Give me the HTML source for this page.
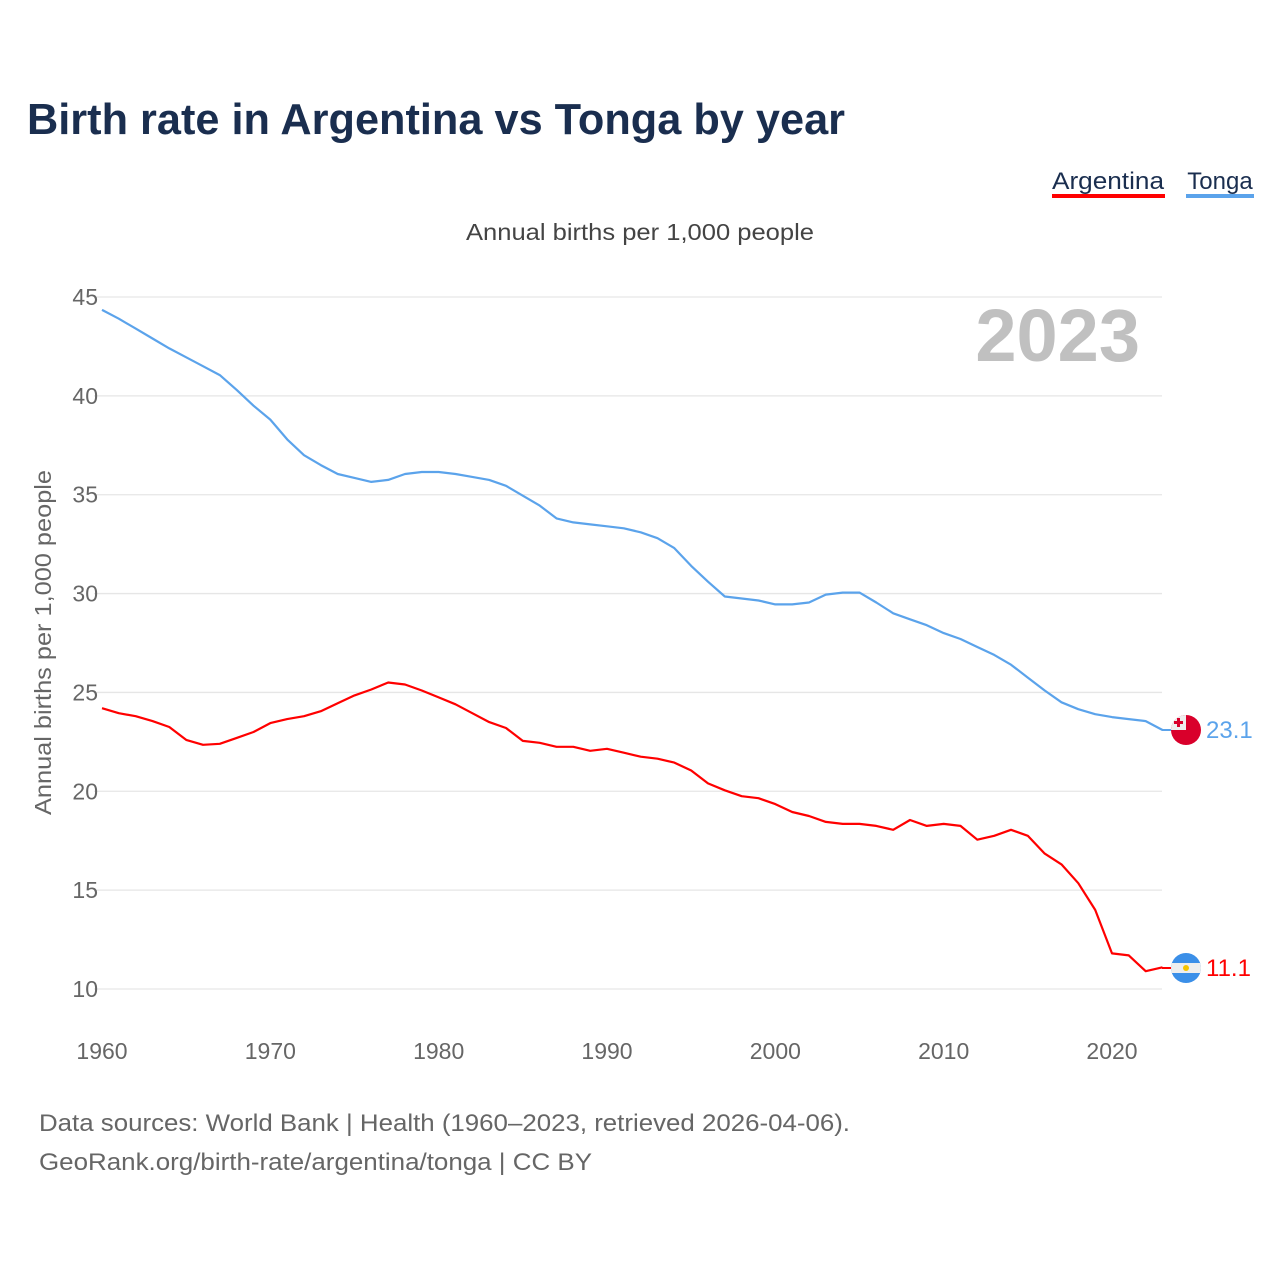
<!DOCTYPE html>
<html><head><meta charset="utf-8"><style>
body{margin:0;background:#fff;font-family:"Liberation Sans",sans-serif;}
svg{display:block}
</style></head><body>
<svg width="1280" height="1280" viewBox="0 0 1280 1280" xmlns="http://www.w3.org/2000/svg">
<defs>
<clipPath id="fc1"><circle cx="1186" cy="730" r="15"/></clipPath>
<clipPath id="fc2"><circle cx="1186" cy="968" r="15"/></clipPath>
</defs>
<text x="27" y="134" font-size="44" font-weight="bold" fill="#1a2e4f" textLength="818" lengthAdjust="spacingAndGlyphs">Birth rate in Argentina vs Tonga by year</text>
<g>
<text x="1108" y="189" font-size="24" fill="#1a2e4f" text-anchor="middle" textLength="112" lengthAdjust="spacingAndGlyphs">Argentina</text>
<rect x="1052" y="194" width="113" height="4" fill="#ff0000"/>
</g>
<g>
<text x="1220" y="189" font-size="24" fill="#1a2e4f" text-anchor="middle">Tonga</text>
<rect x="1186" y="194" width="68" height="4" fill="#5ba3eb"/>
</g>
<text x="466" y="240" font-size="23" fill="#444" textLength="348" lengthAdjust="spacingAndGlyphs">Annual births per 1,000 people</text>
<text x="1140" y="361" font-size="74" font-weight="bold" fill="#c0c0c0" text-anchor="end">2023</text>
<text transform="translate(51,815) rotate(-90)" font-size="23" fill="#666" textLength="345" lengthAdjust="spacingAndGlyphs">Annual births per 1,000 people</text>
<g id="grid"></g><g id="yt"></g><g id="xt"></g><g id="lines"></g>
<line x1="1162" y1="730" x2="1172" y2="730" stroke="#5ba3eb" stroke-width="2"/>
<line x1="1162" y1="968" x2="1172" y2="968" stroke="#ff0000" stroke-width="2"/>
<g clip-path="url(#fc1)">
<rect x="1170" y="714" width="32" height="32" fill="#d9002b"/>
<rect x="1170" y="714" width="16" height="16" fill="#eee"/>
<rect x="1177" y="718" width="3" height="9" fill="#d9002b"/><rect x="1174" y="721" width="9" height="3" fill="#d9002b"/>
</g>
<g clip-path="url(#fc2)">
<rect x="1170" y="952" width="32" height="32" fill="#3b8fe8"/>
<rect x="1170" y="963" width="32" height="10" fill="#eee"/>
<circle cx="1186" cy="968" r="3" fill="#f5c400"/>
</g>
<text x="1206" y="738" font-size="24" fill="#5ba3eb">23.1</text>
<text x="1206" y="976" font-size="24" fill="#ff0000">11.1</text>
<text x="39" y="1131" font-size="24" fill="#666" textLength="811" lengthAdjust="spacingAndGlyphs">Data sources: World Bank | Health (1960–2023, retrieved 2026-04-06).</text>
<text x="39" y="1170" font-size="24" fill="#666" textLength="553" lengthAdjust="spacingAndGlyphs">GeoRank.org/birth-rate/argentina/tonga | CC BY</text>
</svg>
<script>
const years=[];for(let y=1960;y<=2023;y++)years.push(y);
const tonga=[44.35,43.9,43.4,42.9,42.4,41.95,41.5,41.05,40.3,39.5,38.8,37.8,37.0,36.5,36.05,35.85,35.65,35.75,36.05,36.15,36.15,36.05,35.9,35.75,35.45,34.95,34.45,33.8,33.6,33.5,33.4,33.3,33.1,32.8,32.3,31.4,30.6,29.85,29.75,29.65,29.45,29.45,29.55,29.95,30.05,30.05,29.55,29.0,28.7,28.4,28.0,27.7,27.3,26.9,26.4,25.75,25.1,24.5,24.15,23.9,23.75,23.65,23.55,23.1];
const argentina=[24.2,23.95,23.8,23.55,23.25,22.6,22.35,22.4,22.7,23.0,23.45,23.65,23.8,24.05,24.45,24.85,25.15,25.5,25.4,25.1,24.75,24.4,23.95,23.5,23.2,22.55,22.45,22.25,22.25,22.05,22.15,21.95,21.75,21.65,21.45,21.05,20.4,20.05,19.75,19.65,19.35,18.95,18.75,18.45,18.35,18.35,18.25,18.05,18.55,18.25,18.35,18.25,17.55,17.75,18.05,17.75,16.85,16.3,15.35,14.0,11.8,11.7,10.9,11.1];
const yTicks=[10,15,20,25,30,35,40,45];
const xTicks=[1960,1970,1980,1990,2000,2010,2020];
const NS="http://www.w3.org/2000/svg";
const xs=y=>102+(y-1960)*(1112-102)/60;
const ys=v=>989-(v-10)*(692/35);
function mk(t,a,p){const e=document.createElementNS(NS,t);for(const k in a)e.setAttribute(k,a[k]);p.appendChild(e);return e;}
const grid=document.getElementById('grid'),yt=document.getElementById('yt'),xt=document.getElementById('xt'),lines=document.getElementById('lines');
yTicks.forEach(v=>{
 const l=mk('line',{x1:94,x2:1162,y1:ys(v),y2:ys(v),stroke:'#e6e6e6','stroke-width':1.3},grid);
 
 
 const t=mk('text',{x:98,y:ys(v)+8,'font-size':23,fill:'#666','text-anchor':'end'},yt);t.textContent=v;
 
 
});
xTicks.forEach(v=>{
 const t=mk('text',{x:xs(v),y:1059,'font-size':23,fill:'#666','text-anchor':'middle'},xt);t.textContent=v;
 
 
});
function line(data,color,name){
 const d=data.map((v,i)=>(i?'L':'M')+xs(years[i]).toFixed(1)+','+ys(v).toFixed(1)).join('');
 const p=mk('path',{d:d,fill:'none',stroke:color,'stroke-width':2.2,'stroke-linejoin':'round'},lines);
 
 
}
line(tonga,'#5ba3eb','tonga-line');
line(argentina,'#ff0000','argentina-line');
</script>
</body></html>
